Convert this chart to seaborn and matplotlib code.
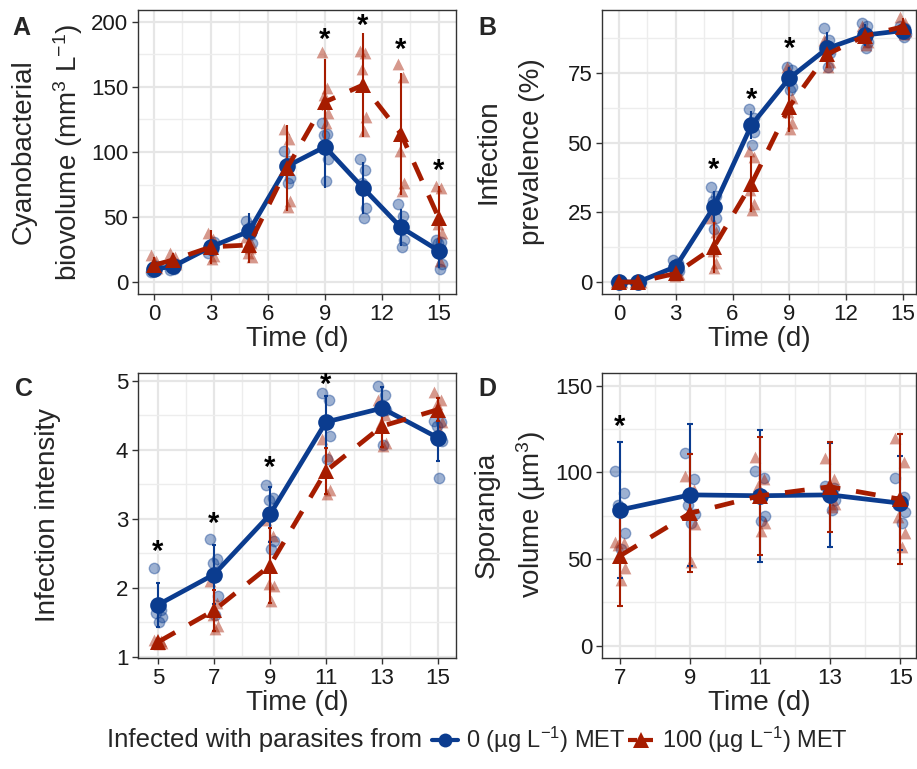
import matplotlib
matplotlib.use("Agg")
import numpy as np
import pandas as pd
import matplotlib.pyplot as plt
import seaborn as sns
from matplotlib.lines import Line2D

sns.set_theme(style="white")
plt.rcParams["font.family"] = ["Liberation Sans", "DejaVu Sans"]
plt.rcParams["mathtext.fontset"] = "custom"
plt.rcParams["mathtext.rm"] = "Liberation Sans"
plt.rcParams["mathtext.it"] = "Liberation Sans:italic"

BLUE = "#0B3C8F"
RED = "#A61C00"
GROUPS = ["0", "100"]
LABELS = ["0 (µg L$^{-1}$) MET", "100 (µg L$^{-1}$) MET"]

# ---- panel A: cyanobacterial biovolume
time_a = [0, 1, 3, 5, 7, 9, 11, 13, 15]
mean_a_0 = [10, 12, 27, 39, 89, 104, 72.5, 42, 24]
mean_a_100 = [13, 17, 27, 28.5, 87.5, 138.5, 151.5, 114, 49]
err_a_0 = [3, 3, 5, 14, 12, 32, 20, 14, 13]
err_a_100 = [6, 5, 13, 14, 33, 33, 40, 47, 25]
pts_a_0 = [[8, 10, 11, 12, 9], [9, 12, 13, 14, 10], [22, 25, 28, 31, 29],
           [47, 43, 38, 30, 36], [101, 93, 88, 80, 76], [122, 114, 113, 95, 78],
           [95, 86, 76, 57, 49], [60, 51, 44, 32, 27], [32, 31, 30, 14, 10]]
pts_a_100 = [[21, 16, 13, 11, 10], [22, 19, 17, 14, 16], [38, 33, 27, 20, 18],
             [35, 30, 22, 19, 26], [118, 110, 88, 62, 58], [177, 149, 144, 130, 122],
             [178, 176, 164, 127, 116], [168, 158, 101, 76, 70], [74, 72, 45, 38, 16]]
sig_a_t = [9, 11, 13, 15]
sig_a_y = [190, 201, 182, 89]

# ---- panel B: infection prevalence
time_b = [0, 1, 3, 5, 7, 9, 11, 13, 15]
mean_b_0 = [0, 0, 5.5, 26.8, 56.3, 73.1, 83.8, 88.6, 90.2]
mean_b_100 = [0, 0, 3.1, 12.4, 35.2, 62.9, 81.7, 88.3, 91.6]
err_b_0 = [0.3, 0.3, 2, 6, 5, 4, 6, 4, 2]
err_b_100 = [0.3, 0.3, 1.5, 9, 10, 9, 5, 3, 3]
pts_b_0 = [[0, 0, 0, 0, 0], [0, 0, 0, 0, 0], [8, 7, 5, 4, 4], [34, 31, 29, 23, 19],
           [62, 59, 57, 54, 49], [77, 76, 74, 70, 69], [91, 87, 85, 82, 77],
           [93, 92, 89, 86, 84], [92, 91, 90, 89, 88]]
pts_b_100 = [[0, 0, 0, 0, 0], [0, 0, 0, 0, 0], [4, 3, 2, 3, 3], [23, 18, 11, 7, 5],
             [47, 45, 33, 28, 26], [77, 66, 61, 57, 55], [87, 84, 82, 79, 77],
             [92, 90, 88, 86, 85], [95, 93, 91, 90, 89]]
sig_b_t = [5, 7, 9]
sig_b_y = [42, 67, 85.6]

# ---- panel C: infection intensity
time_c = [5, 7, 9, 11, 13, 15]
mean_c_0 = [1.75, 2.19, 3.06, 4.40, 4.60, 4.17]
mean_c_100 = [1.21, 1.67, 2.32, 3.69, 4.34, 4.58]
err_c_0 = [0.32, 0.43, 0.40, 0.38, 0.30, 0.33]
err_c_100 = [0.05, 0.30, 0.55, 0.33, 0.30, 0.17]
pts_c_0 = [[2.29, 1.68, 1.63, 1.58, 1.50], [2.70, 2.42, 2.35, 1.88, 1.60],
           [3.48, 3.30, 3.27, 2.67, 2.56], [4.82, 4.72, 4.42, 4.19, 3.87],
           [4.92, 4.79, 4.62, 4.58, 4.07], [4.41, 4.40, 4.34, 4.12, 3.59]]
pts_c_100 = [[1.24, 1.22, 1.21, 1.20, 1.18], [2.10, 1.78, 1.60, 1.45, 1.40],
             [2.98, 2.75, 2.05, 2.02, 1.80], [4.15, 3.90, 3.70, 3.42, 3.35],
             [4.72, 4.50, 4.38, 4.10, 4.05], [4.84, 4.72, 4.66, 4.40, 4.28]]
sig_c_t = [5, 7, 9, 11]
sig_c_y = [2.59, 3.0, 3.80, 5.01]

# ---- panel D: sporangia volume
time_d = [7, 9, 11, 13, 15]
mean_d_0 = [78.3, 87, 86.5, 87, 82.2]
mean_d_100 = [51.8, 76.4, 86.5, 91.7, 84.5]
err_d_0 = [39, 41, 38, 30, 27]
err_d_100 = [29, 34, 34, 26, 37.5]
pts_d_0 = [[101, 88, 81, 65, 56], [111, 96, 81, 76, 71], [101, 97, 87, 75, 72],
           [92, 91, 90, 84, 78], [97, 86, 81, 77, 71]]
pts_d_100 = [[60, 59, 58, 45, 38], [98, 90, 76, 70, 48], [109, 96, 92, 71, 66],
             [108, 96, 92, 82, 80], [120, 106, 74, 65, 57]]
sig_d_t = [7]
sig_d_y = [129]

# horizontal jitter of replicate points (days)
JIT = [-0.14, 0.12, -0.05, 0.15, 0.04]

fig = plt.figure(figsize=(9.17, 7.69), dpi=100)
W, H = 917, 769


def add_ax(l, t, r, b):
    return fig.add_axes([l / W, 1 - b / H, (r - l) / W, (b - t) / H])


def panel(ax, times, means, errs, pts, sig_t, sig_y, caps):
    rows = []
    for g, p in zip(GROUPS, pts):
        for t, vals in zip(times, p):
            for j, v in zip(JIT, vals):
                rows.append((g, t + j, v))
    dp = pd.DataFrame(rows, columns=["group", "x", "value"])
    dm = pd.DataFrame({"group": np.repeat(GROUPS, len(times)),
                       "time": times * 2,
                       "mean": means[0] + means[1]})
    pal = {"0": BLUE, "100": RED}
    sns.scatterplot(data=dp[dp.group == "0"], x="x", y="value", color=BLUE,
                    marker="o", s=56, alpha=0.4, edgecolor=BLUE, linewidth=1.0,
                    legend=False, ax=ax, zorder=2)
    sns.scatterplot(data=dp[dp.group == "100"], x="x", y="value", color=RED,
                    marker="^", s=72, alpha=0.45, linewidth=0,
                    legend=False, ax=ax, zorder=2)
    for g, m, e in zip(GROUPS, means, errs):
        ax.errorbar(times, m, yerr=e, fmt="none", ecolor=pal[g], elinewidth=1.5,
                    capsize=caps, capthick=1.5, zorder=3)
    sns.lineplot(data=dm, x="time", y="mean", hue="group", style="group",
                 palette=pal, markers={"0": "o", "100": "^"},
                 dashes={"0": "", "100": (4.2, 3.4)}, markersize=12,
                 markeredgewidth=0, linewidth=3.4, legend=False, ax=ax, zorder=4)
    for t, y in zip(sig_t, sig_y):
        ax.annotate("*", (t, y), xytext=(0, -5), textcoords="offset pixels",
                    ha="center", va="center", fontsize=21, fontweight="bold",
                    color="black", zorder=5)


def style(ax, xlim, ylim, xt, yt, xmin, ymin):
    ax.set_xlim(xlim)
    ax.set_ylim(ylim)
    ax.set_xticks(xt)
    ax.set_yticks(yt)
    ax.set_xticks(xmin, minor=True)
    ax.set_yticks(ymin, minor=True)
    ax.grid(which="major", color="#E6E6E6", lw=1.6, zorder=0)
    ax.grid(which="minor", color="#EDEDED", lw=1.0, zorder=0)
    ax.set_axisbelow(True)
    for s in ax.spines.values():
        s.set_color("#333333")
        s.set_linewidth(1.0)
    ax.tick_params(which="major", direction="out", length=4, width=1,
                   color="#333333", labelsize=16, labelcolor="#1a1a1a",
                   bottom=True, left=True, pad=3)
    ax.tick_params(which="minor", length=0)
    ax.set_xlabel("Time (d)", fontsize=20, labelpad=1)
    ax.set_ylabel("")


def ylabel_lines(lines, xs, yc):
    for txt, x in zip(lines, xs):
        fig.text(x / W, 1 - yc / H, txt, rotation=90, fontsize=20,
                 ha="center", va="center")


axA = add_ax(138, 10, 456, 294)
panel(axA, time_a, [mean_a_0, mean_a_100], [err_a_0, err_a_100],
      [pts_a_0, pts_a_100], sig_a_t, sig_a_y, 0)
style(axA, (-0.84, 15.9), (-9.2, 209.2), [0, 3, 6, 9, 12, 15], [0, 50, 100, 150, 200],
      [1.5, 4.5, 7.5, 10.5, 13.5], [25, 75, 125, 175])
ylabel_lines(["Cyanobacterial", "biovolume (mm$^3$ L$^{-1}$)"], [24, 68], 152)

axB = add_ax(602, 10, 916, 294)
panel(axB, time_b, [mean_b_0, mean_b_100], [err_b_0, err_b_100],
      [pts_b_0, pts_b_100], sig_b_t, sig_b_y, 0)
style(axB, (-0.9, 15.7), (-4.3, 97.6), [0, 3, 6, 9, 12, 15], [0, 25, 50, 75],
      [1.5, 4.5, 7.5, 10.5, 13.5], [12.5, 37.5, 62.5, 87.5])
ylabel_lines(["Infection", "prevalence (%)"], [489, 532], 152)

axC = add_ax(138, 373, 456, 658)
panel(axC, time_c, [mean_c_0, mean_c_100], [err_c_0, err_c_100],
      [pts_c_0, pts_c_100], sig_c_t, sig_c_y, 1.5)
style(axC, (4.29, 15.64), (0.98, 5.11), [5, 7, 9, 11, 13, 15], [1, 2, 3, 4, 5],
      [6, 8, 10, 12, 14], [1.5, 2.5, 3.5, 4.5])
ylabel_lines(["Infection intensity"], [48], 515)

axD = add_ax(602, 373, 916, 658)
panel(axD, time_d, [mean_d_0, mean_d_100], [err_d_0, err_d_100],
      [pts_d_0, pts_d_100], sig_d_t, sig_d_y, 2)
style(axD, (6.49, 15.45), (-7.1, 157.3), [7, 9, 11, 13, 15], [0, 50, 100, 150],
      [8, 10, 12, 14], [25, 75, 125])
ylabel_lines(["Sporangia", "volume (µm$^3$)"], [487, 531], 515)

for letter, (px, py) in zip("ABCD", [(21, 28), (487, 28), (24, 389), (487, 389)]):
    fig.text(px / W, 1 - py / H, letter, fontsize=18, fontweight="bold",
             ha="center", va="center")

# legend
fig.text(107 / W, 1 - 740 / H, "Infected with parasites from", fontsize=18.5,
         ha="left", va="center")
handles = [Line2D([], [], color=BLUE, marker="o", ms=10, lw=3, mew=0),
           Line2D([], [], color=RED, marker="^", ms=11, lw=3, mew=0,
                  ls=(0, (2.2, 1.6)))]
fig.legend(handles, LABELS, loc="center left", bbox_to_anchor=(432 / W, 1 - 740 / H),
           ncol=2, frameon=False, fontsize=17, handlelength=1.1,
           handletextpad=0.35, columnspacing=0.1, borderpad=0, borderaxespad=0)

fig.savefig("out.png", dpi=100)
